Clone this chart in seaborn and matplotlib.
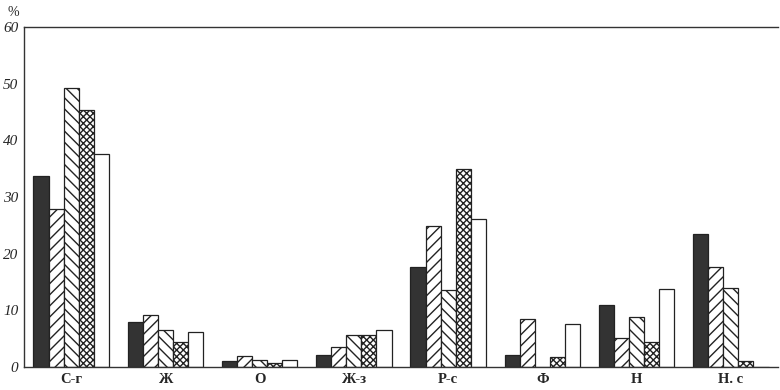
import numpy as np
import pandas as pd
import matplotlib
matplotlib.use("Agg")
import matplotlib.pyplot as plt
import seaborn as sns

# --- данные ---
categories = ["С-г", "Ж", "О", "Ж-з", "Р-с", "Ф", "Н", "Н. с"]
series = ["1", "2", "3", "4", "5"]
s1 = [33.7, 7.9, 1.0, 2.1, 17.6, 2.2, 11.0, 23.4]
s2 = [27.9, 9.2, 2.0, 3.6, 24.9, 8.5, 5.1, 17.7]
s3 = [49.2, 6.6, 1.2, 5.6, 13.6, 0.0, 8.9, 13.9]
s4 = [45.3, 4.4, 0.7, 5.6, 34.9, 1.8, 4.4, 1.1]
s5 = [37.6, 6.2, 1.3, 6.6, 26.2, 7.6, 13.7, 0.0]
yticks = [0, 10, 20, 30, 40, 50, 60]

values = [s1, s2, s3, s4, s5]
rows = []
for name, vals in zip(series, values):
    for c, v in zip(categories, vals):
        rows.append({"cat": c, "series": name, "val": v})
df = pd.DataFrame(rows)

sns.set_theme(style="white")
plt.rcParams["font.family"] = ["Liberation Serif", "DejaVu Serif"]
plt.rcParams["hatch.linewidth"] = 1.0
plt.rcParams["hatch.color"] = "#222222"

fills = ["#333333", "white", "white", "white", "white"]
hatches = ["", "///", "\\\\\\", "xxxxx", ""]

fig = plt.figure(figsize=(7.8, 3.9), dpi=100)
ax = fig.add_axes([0.0308, 0.059, 0.9666, 0.8718])

sns.barplot(data=df, x="cat", y="val", hue="series", order=categories,
            hue_order=series, palette=fills, width=0.8, edgecolor="#222222",
            linewidth=0.9, saturation=1, legend=False, ax=ax)

for cont, h in zip(ax.containers, hatches):
    for bar in cont:
        bar.set_hatch(h)

ax.set_xlim(-0.5, len(categories) - 0.5)
ax.set_ylim(0, 60)
ax.set_yticks(yticks)
ax.set_yticklabels([str(t) for t in yticks], fontstyle="italic", fontsize=11)
ax.set_xticks(range(len(categories)))
ax.set_xticklabels(categories, fontweight="bold", fontsize=10.5)
ax.set_xticks(np.arange(-0.5, len(categories)), minor=True)
ax.tick_params(axis="x", which="major", length=0, pad=4)
ax.tick_params(axis="x", which="minor", length=7, width=1, direction="out", color="#333333")
ax.tick_params(axis="y", length=0, pad=4)
ax.set_xlabel("")
ax.set_ylabel("")

for side in ["left", "bottom", "top"]:
    ax.spines[side].set_visible(True)
    ax.spines[side].set_color("#333333")
    ax.spines[side].set_linewidth(1.0)
ax.spines["right"].set_visible(False)

fig.text(0.017, 0.985, "%", fontsize=10, va="top", ha="center")

fig.savefig("out.png", dpi=100)
